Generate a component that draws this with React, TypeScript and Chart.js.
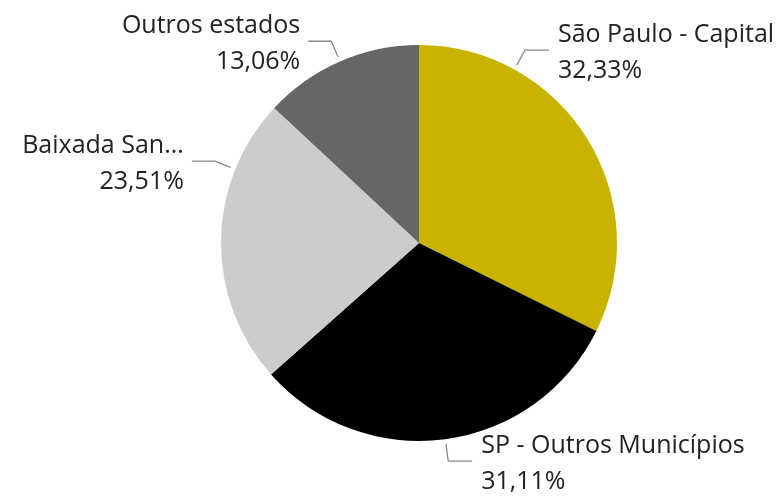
import React, { useEffect, useRef } from "react";
import { Chart, registerables } from "chart.js";

Chart.register(...registerables);

const categories = ["São Paulo - Capital", "SP - Outros Municípios", "Baixada Santista", "Outros estados"];
const displayLabels = ["São Paulo - Capital", "SP - Outros Municípios", "Baixada San...", "Outros estados"];
const values = [32.33, 31.11, 23.51, 13.06];
const percentLabels = ["32,33%", "31,11%", "23,51%", "13,06%"];
const colors = ["#C8B400", "#000000", "#CCCCCC", "#666666"];
// leader-line angular adjustment (degrees) from slice mid-angle
const leaderOffsetDeg = [-29.4, 0, 21.2, 0];

const FONT = '25px "Open Sans", sans-serif';

const labelPlugin = {
  id: "outsideLabels",
  afterDraw(chart: any) {
    const ctx = chart.ctx;
    const meta = chart.getDatasetMeta(0);
    ctx.save();
    ctx.font = FONT;
    meta.data.forEach((arc: any, i: number) => {
      const p = arc.getProps(["x", "y", "startAngle", "endAngle", "outerRadius"], true);
      const a = (p.startAngle + p.endAngle) / 2 + (leaderOffsetDeg[i] * Math.PI) / 180;
      const r0 = p.outerRadius + 5;
      const r1 = p.outerRadius + 22;
      const sx = p.x + Math.cos(a) * r0;
      const sy = p.y + Math.sin(a) * r0;
      const ex = p.x + Math.cos(a) * r1;
      const ey = p.y + Math.sin(a) * r1;
      const right = Math.cos(a) >= 0;
      const hx = ex + (right ? 24 : -23);
      ctx.strokeStyle = "#8a8a8a";
      ctx.lineWidth = 1.3;
      ctx.beginPath();
      ctx.moveTo(sx, sy);
      ctx.lineTo(ex, ey);
      ctx.lineTo(hx, ey);
      ctx.stroke();
      ctx.fillStyle = "#222222";
      ctx.textAlign = right ? "left" : "right";
      ctx.textBaseline = "middle";
      const tx = hx + (right ? 9 : -8);
      ctx.fillText(displayLabels[i], tx, ey - 15);
      ctx.fillText(percentLabels[i], tx, ey + 21);
    });
    ctx.restore();
  },
};

export default function App() {
  const ref = useRef<HTMLCanvasElement>(null);
  useEffect(() => {
    if (!ref.current) return;
    const chart = new Chart(ref.current, {
      type: "pie",
      data: {
        labels: categories,
        datasets: [
          {
            data: values,
            backgroundColor: colors,
            borderWidth: 0,
          },
        ],
      },
      options: {
        responsive: false,
        animation: false,
        layout: { padding: { top: 45, bottom: 56, left: 221, right: 167 } },
        plugins: { legend: { display: false }, tooltip: { enabled: false } },
      },
      plugins: [labelPlugin],
    });
    return () => chart.destroy();
  }, []);
  return (
    <div style={{ position: "fixed", left: 0, top: 0, width: 784, height: 497, background: "#fff" }}>
      <canvas ref={ref} width={784} height={497} style={{ display: "block" }} />
    </div>
  );
}
